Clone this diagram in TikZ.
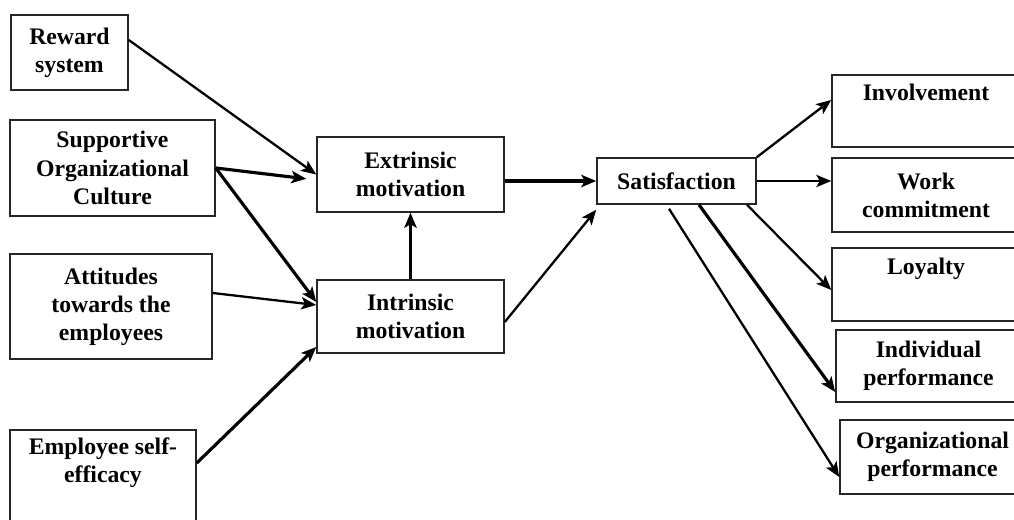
\documentclass[tikz,border=0pt]{standalone}
\usepackage{fontspec}
\setmainfont{Liberation Serif}
\usetikzlibrary{arrows.meta}

\begin{document}
\begin{tikzpicture}
                [x=0.02cm,y=-0.02cm,
                box/.style={rectangle,draw=black!85,line width=0.9pt,align=center,inner sep=2pt,
                    font=\fontsize{13.5}{16}\selectfont\bfseries},
                >={Stealth[length=8.5pt,width=7pt,inset=2pt]},
                arr/.style={->,line width=1.3pt},
                fat/.style={->,line width=1.8pt}]
                \clip (0,0) rectangle (1014,520);
                % left column
                \node[box,minimum width=2.34cm,minimum height=1.5cm] (reward) at (69.5,52.5) {Reward\\system};
                \node[box,minimum width=4.1cm,minimum height=1.92cm] (supportive) at (112.5,168) {Supportive\\Organizational\\Culture};
                \node[box,minimum width=4.04cm,minimum height=2.1cm] (attitudes) at (111,306.5) {Attitudes\\towards the\\employees};
                \node[box,minimum width=3.72cm,minimum height=1.92cm] (employee) at (103,478) {Employee self-\\efficacy\\\strut};
                % middle
                \node[box,minimum width=3.74cm,minimum height=1.5cm] (extrinsic) at (410.5,174.5) {Extrinsic\\motivation};
                \node[box,minimum width=3.74cm,minimum height=1.46cm] (intrinsic) at (410.5,316.5) {Intrinsic\\motivation};
                \node[box,minimum width=3.18cm,minimum height=0.92cm] (satisfaction) at (676.5,181) {Satisfaction};
                % right column, cut off by the page edge
                \node[box,minimum width=3.76cm,minimum height=1.44cm] (involvement) at (926,111) {Involvement\\\strut};
                \node[box,minimum width=3.76cm,minimum height=1.48cm] (work) at (926,195) {Work\\commitment};
                \node[box,minimum width=3.76cm,minimum height=1.46cm] (loyalty) at (926,284.5) {Loyalty\\\strut};
                \node[box,minimum width=3.7cm,minimum height=1.44cm] (individual) at (928.5,366) {Individual\\performance};
                \node[box,minimum width=3.7cm,minimum height=1.48cm] (organizational) at (932.5,457) {Organizational\\performance};
                \path[arr]([yshift=0.25cm]reward.east) edge (extrinsic.west)
                        (supportive.east) edge[fat,shorten >=0.2cm] ([yshift=-0.11cm]extrinsic.west)
                        (supportive.east) edge[fat] ([yshift=0.29cm]intrinsic.west)
                        ([yshift=0.27cm]attitudes.east) edge ([yshift=0.23cm]intrinsic.west)
                        ([yshift=0.3cm]employee.east) edge[fat] ([yshift=-0.61cm]intrinsic.west)
                        (intrinsic.north) edge[fat] (extrinsic.south)
                        (extrinsic.east |- satisfaction.west) edge[fat] (satisfaction.west)
                        ([yshift=-0.11cm]intrinsic.east) edge ([yshift=-0.1cm]satisfaction.south west);
                \path[arr](satisfaction.north east) edge ([yshift=0.22cm]involvement.west)
                        (satisfaction.east) edge (satisfaction.east -| work.west)
                        ([xshift=1.41cm]satisfaction.south) edge ([yshift=-0.11cm]loyalty.west)
                        ([xshift=0.45cm]satisfaction.south) edge[fat] ([yshift=-0.52cm]individual.west)
                        ([xshift=-0.15cm,yshift=-0.08cm]satisfaction.south) edge ([yshift=-0.4cm]organizational.west);
            \end{tikzpicture}
\end{document}
